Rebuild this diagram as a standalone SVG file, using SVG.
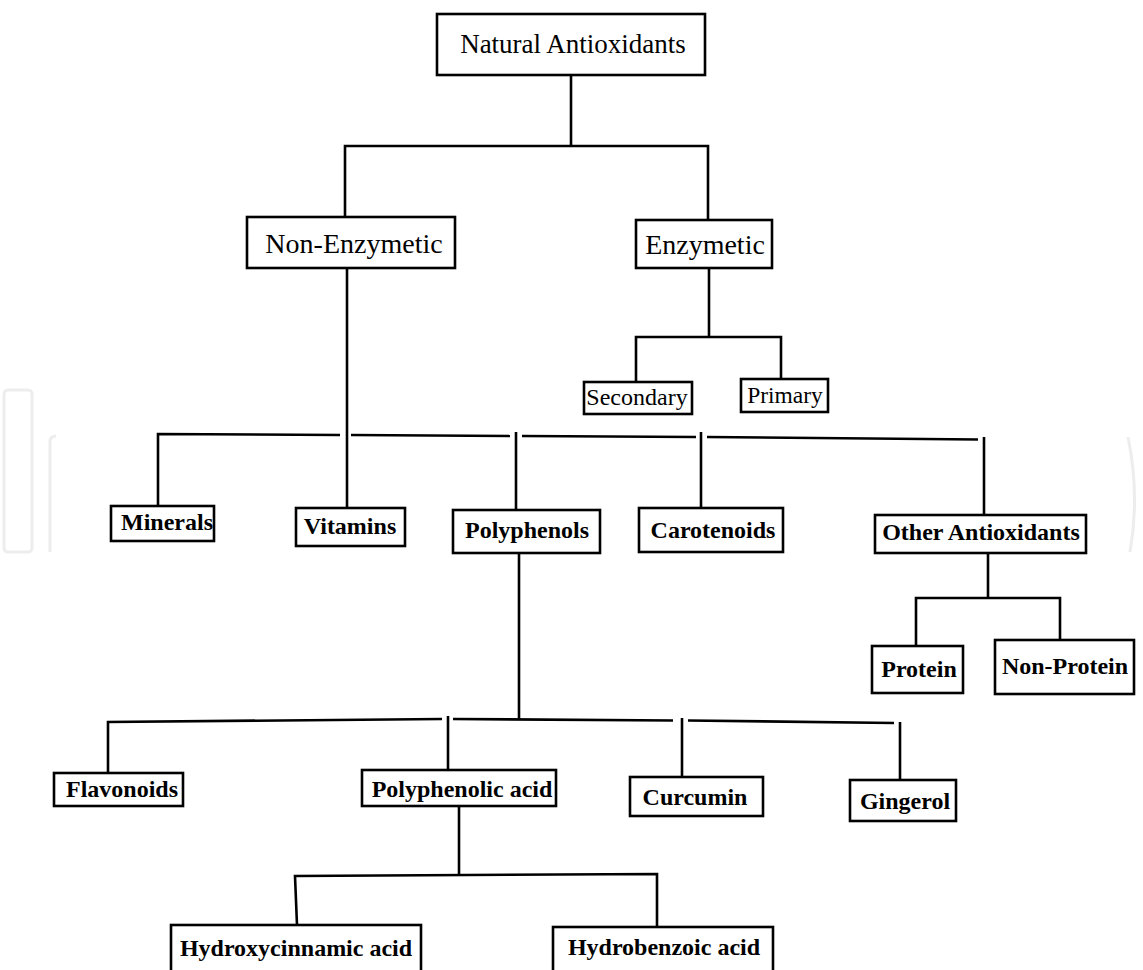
<svg xmlns="http://www.w3.org/2000/svg" width="1143" height="970" viewBox="0 0 1143 970">
<style>
.box{fill:#fff;stroke:#000;stroke-width:2.6}
.ln{fill:none;stroke:#000;stroke-width:2.6;stroke-linecap:butt;stroke-linejoin:miter}
.wm{fill:none;stroke:#ededed;stroke-width:3}
.t{font-family:"Liberation Serif","Times New Roman",serif;fill:#000;text-anchor:middle}
.b{font-weight:bold;font-size:24px}
</style>
<rect width="1143" height="970" fill="#fff"/>
<g id="watermark">
<rect class="wm" x="4" y="390" width="28" height="162" rx="4"/>
<path class="wm" d="M50,552 V442 Q50,436 56,436"/>
<path class="wm" d="M1128,437 Q1140,495 1130,552"/>
</g>
<g id="connectors">
<path class="ln" d="M571,75 V146"/>
<path class="ln" d="M345,217 V146 H708 V220"/>
<path class="ln" d="M709,268 V337"/>
<path class="ln" d="M636,382 V337 H781 V379"/>
<path class="ln" d="M347,268 V508"/>
<path class="ln" d="M158,506 V434 L340,435"/>
<path class="ln" d="M351,435 L510,436"/>
<path class="ln" d="M522,436 L696,437"/>
<path class="ln" d="M707,437 L978,439.5"/>
<path class="ln" d="M516,432 V510"/>
<path class="ln" d="M701,432 V508"/>
<path class="ln" d="M984,437 V515"/>
<path class="ln" d="M988,553 V598"/>
<path class="ln" d="M916,646 V598 H1060 V640"/>
<path class="ln" d="M519,553 V720"/>
<path class="ln" d="M108,773 V722 L442,719"/>
<path class="ln" d="M453,719 L673,720.5"/>
<path class="ln" d="M688,720.5 L894,723"/>
<path class="ln" d="M448,716 V770"/>
<path class="ln" d="M682,718 V777"/>
<path class="ln" d="M900,722 V780"/>
<path class="ln" d="M459,805 V874"/>
<path class="ln" d="M297,925 L295,876 L657,874 V927"/>
</g>
<g id="natural-antioxidants">
<rect class="box" x="437" y="14" width="268" height="61"/>
<text class="t" x="573" y="53" font-size="27">Natural Antioxidants</text>
</g>
<g id="non-enzymetic">
<rect class="box" x="247" y="217" width="208" height="51"/>
<text class="t" x="354" y="253" font-size="28">Non-Enzymetic</text>
</g>
<g id="enzymetic">
<rect class="box" x="636" y="220" width="136" height="48"/>
<text class="t" x="705" y="254" font-size="28">Enzymetic</text>
</g>
<g id="secondary">
<rect class="box" x="584" y="382" width="108" height="32"/>
<text class="t" x="637" y="405" font-size="24">Secondary</text>
</g>
<g id="primary">
<rect class="box" x="741" y="379" width="87" height="33"/>
<text class="t" x="785" y="403" font-size="23.5">Primary</text>
</g>
<g id="minerals">
<rect class="box" x="111" y="506" width="103" height="35"/>
<text class="t b" x="167" y="530">Minerals</text>
</g>
<g id="vitamins">
<rect class="box" x="296" y="508" width="109" height="38"/>
<text class="t b" x="350" y="534">Vitamins</text>
</g>
<g id="polyphenols">
<rect class="box" x="453" y="510" width="147" height="43"/>
<text class="t b" x="527" y="538">Polyphenols</text>
</g>
<g id="carotenoids">
<rect class="box" x="639" y="508" width="144" height="44"/>
<text class="t b" x="713" y="538">Carotenoids</text>
</g>
<g id="other-antioxidants">
<rect class="box" x="875" y="515" width="211" height="38"/>
<text class="t b" x="981" y="540">Other Antioxidants</text>
</g>
<g id="protein">
<rect class="box" x="872" y="646" width="91" height="47"/>
<text class="t b" x="919" y="677">Protein</text>
</g>
<g id="non-protein">
<rect class="box" x="995" y="640" width="139" height="54"/>
<text class="t b" x="1065" y="674">Non-Protein</text>
</g>
<g id="flavonoids">
<rect class="box" x="54" y="773" width="129" height="33"/>
<text class="t b" x="122" y="797">Flavonoids</text>
</g>
<g id="polyphenolic-acid">
<rect class="box" x="362" y="770" width="194" height="36"/>
<text class="t b" x="462" y="797">Polyphenolic acid</text>
</g>
<g id="curcumin">
<rect class="box" x="630" y="777" width="133" height="39"/>
<text class="t b" x="695" y="805">Curcumin</text>
</g>
<g id="gingerol">
<rect class="box" x="850" y="780" width="106" height="41"/>
<text class="t b" x="905" y="809">Gingerol</text>
</g>
<g id="hydroxycinnamic-acid">
<rect class="box" x="171" y="925" width="250" height="47"/>
<text class="t b" x="296" y="956">Hydroxycinnamic acid</text>
</g>
<g id="hydrobenzoic-acid">
<rect class="box" x="553" y="927" width="220" height="45"/>
<text class="t b" x="664" y="955">Hydrobenzoic acid</text>
</g>
</svg>
